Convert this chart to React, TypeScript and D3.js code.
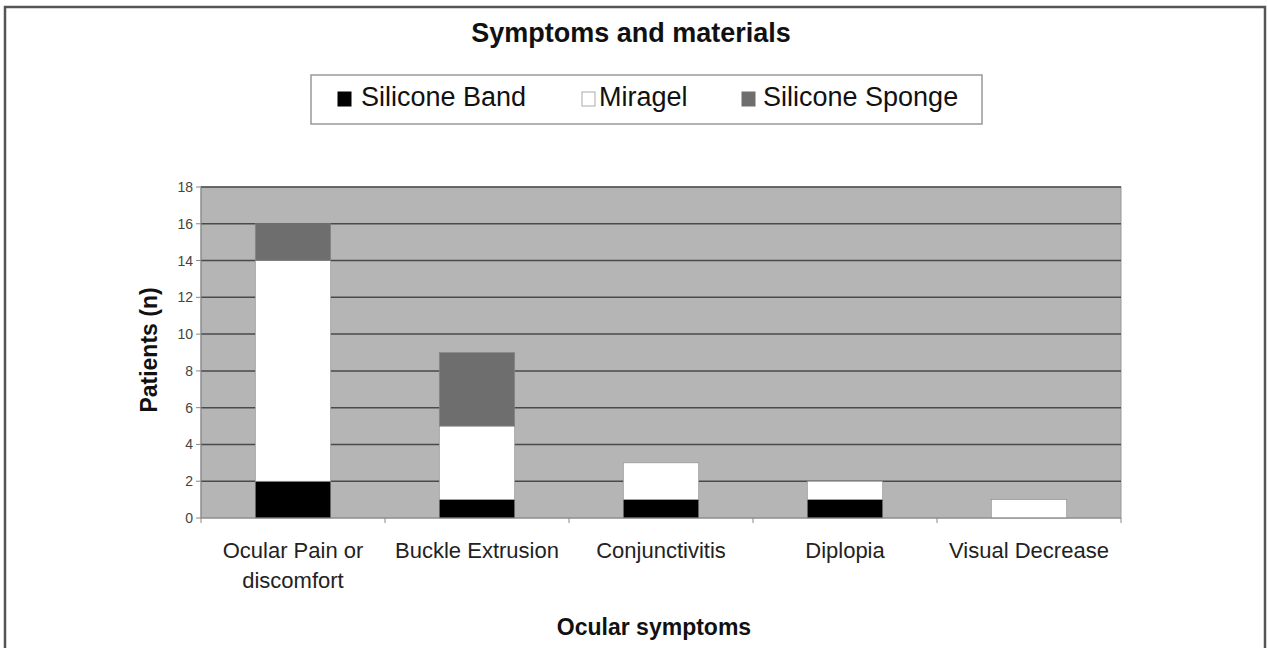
import { scaleBand, scaleLinear, stack } from "d3";

const width = 1268;
const height = 648;

const categories = [
  "Ocular Pain or discomfort",
  "Buckle Extrusion",
  "Conjunctivitis",
  "Diplopia",
  "Visual Decrease",
];
const categoryLines = [
  ["Ocular Pain or", "discomfort"],
  ["Buckle Extrusion"],
  ["Conjunctivitis"],
  ["Diplopia"],
  ["Visual Decrease"],
];
const siliconeBand = [2, 1, 1, 1, 0];
const miragel = [12, 4, 2, 1, 1];
const siliconeSponge = [2, 4, 0, 0, 0];
const seriesNames = ["Silicone Band", "Miragel", "Silicone Sponge"];
const seriesColors = ["#000000", "#ffffff", "#6e6e6e"];
const yTicks = [0, 2, 4, 6, 8, 10, 12, 14, 16, 18];

const plot = { left: 201, right: 1121, top: 187, bottom: 518 };
const font = "'Liberation Sans', Arial, sans-serif";

export default function App() {
  const x = scaleBand().domain(categories).range([plot.left, plot.right]);
  const y = scaleLinear().domain([0, 18]).range([plot.bottom, plot.top]);
  const barW = x.bandwidth() * 0.41;

  const rows = categories.map((c, i) => ({
    cat: c,
    [seriesNames[0]]: siliconeBand[i],
    [seriesNames[1]]: miragel[i],
    [seriesNames[2]]: siliconeSponge[i],
  }));
  const layers = stack<any>().keys(seriesNames)(rows);

  const legendItems = [
    { sx: 338, tx: 361 },
    { sx: 582, tx: 599 },
    { sx: 742, tx: 763 },
  ];

  return (
    <svg
      width={width}
      height={height}
      style={{ position: "absolute", left: 0, top: 0, background: "#fff" }}
    >
      <rect x={0} y={0} width={width} height={height} fill="#fff" />
      {/* outer frame */}
      <path d={`M5,${height} V7 H1265 V${height}`} fill="none" stroke="#555" strokeWidth={2.5} />

      <text x={631} y={42} textAnchor="middle" fontFamily={font} fontWeight="bold" fontSize={27} fill="#111">
        Symptoms and materials
      </text>

      {/* legend */}
      <rect x={311} y={75} width={671} height={49} fill="#fff" stroke="#999" strokeWidth={1.5} />
      {seriesNames.map((s, i) => (
        <g key={s}>
          <rect
            x={legendItems[i].sx}
            y={92}
            width={13}
            height={14}
            fill={seriesColors[i]}
            stroke={i === 1 ? "#aaa" : seriesColors[i]}
          />
          <text x={legendItems[i].tx} y={106} fontFamily={font} fontSize={27} fill="#111">
            {s}
          </text>
        </g>
      ))}

      {/* plot background */}
      <rect
        x={plot.left}
        y={plot.top}
        width={plot.right - plot.left}
        height={plot.bottom - plot.top}
        fill="#b5b5b5"
        stroke="#999"
      />
      {yTicks.slice(1).map((t) => (
        <line key={t} x1={plot.left} x2={plot.right} y1={y(t)} y2={y(t)} stroke="#4a4a4a" strokeWidth={1.5} />
      ))}

      {/* bars */}
      {layers.map((layer, li) =>
        layer.map((d, i) =>
          d[1] - d[0] > 0 ? (
            <rect
              key={`${li}-${i}`}
              x={(x(categories[i]) ?? 0) + (x.bandwidth() - barW) / 2}
              y={y(d[1])}
              width={barW}
              height={y(d[0]) - y(d[1])}
              fill={seriesColors[li]}
              stroke="#888"
              strokeWidth={0.6}
            />
          ) : null
        )
      )}

      {/* axes */}
      <line x1={plot.left} x2={plot.left} y1={plot.top} y2={plot.bottom} stroke="#888" />
      <line x1={plot.left} x2={plot.right} y1={plot.bottom} y2={plot.bottom} stroke="#888" />
      {yTicks.map((t) => (
        <g key={t}>
          <line x1={plot.left - 5} x2={plot.left} y1={y(t)} y2={y(t)} stroke="#888" />
          <text
            x={plot.left - 8}
            y={y(t) + 5}
            textAnchor="end"
            fontFamily={font}
            fontSize={14}
            fill="#444"
          >
            {t}
          </text>
        </g>
      ))}
      {categories.map((c) => (
        <line
          key={c}
          x1={x(c) ?? 0}
          x2={x(c) ?? 0}
          y1={plot.bottom}
          y2={plot.bottom + 5}
          stroke="#888"
        />
      ))}
      <line x1={plot.right} x2={plot.right} y1={plot.bottom} y2={plot.bottom + 5} stroke="#888" />
      {categories.map((c, i) => (
        <text
          key={c}
          x={(x(c) ?? 0) + x.bandwidth() / 2}
          y={558}
          textAnchor="middle"
          fontFamily={font}
          fontSize={22}
          fill="#222"
        >
          {categoryLines[i].map((line, j) => (
            <tspan key={j} x={(x(c) ?? 0) + x.bandwidth() / 2} dy={j === 0 ? 0 : 30}>
              {line}
            </tspan>
          ))}
        </text>
      ))}

      <text
        transform={`translate(157,350) rotate(-90)`}
        textAnchor="middle"
        fontFamily={font}
        fontWeight="bold"
        fontSize={23}
        fill="#111"
      >
        Patients (n)
      </text>
      <text x={654} y={635} textAnchor="middle" fontFamily={font} fontWeight="bold" fontSize={23} fill="#111">
        Ocular symptoms
      </text>
    </svg>
  );
}
